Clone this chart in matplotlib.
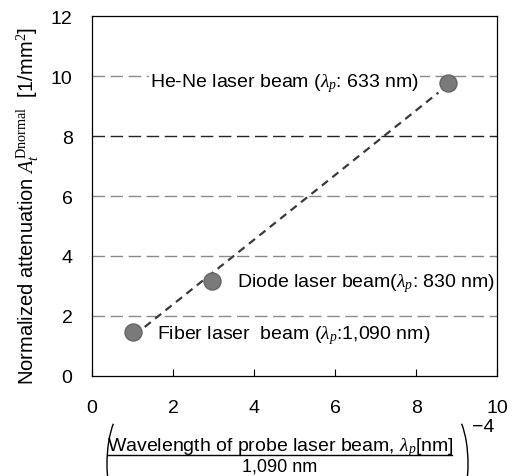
import matplotlib.pyplot as plt
from matplotlib.patches import Arc
from matplotlib.lines import Line2D

plt.rcParams['font.family'] = 'Liberation Sans'
plt.rcParams['mathtext.fontset'] = 'custom'
plt.rcParams['mathtext.rm'] = 'Liberation Serif'
plt.rcParams['mathtext.it'] = 'Liberation Serif:italic'
plt.rcParams['mathtext.sf'] = 'Liberation Sans'

# (lambda_p / 1090 nm)^-4 and normalized attenuation for the three lasers
ratio = [1.0, 2.97, 8.79]
atten = [1.47, 3.17, 9.77]
fit_x = [1.3, 8.55]
fit_y = [1.63, 9.45]
names = [r'Fiber laser  beam ($\lambda_p$:1,090 nm)',
         r'Diode laser beam($\lambda_p$: 830 nm)',
         r'He-Ne laser beam ($\lambda_p$: 633 nm)']
grid_levels = [2, 4, 6, 8, 10]
xticks = [0, 2, 4, 6, 8, 10]
yticks = [0, 2, 4, 6, 8, 10, 12]

W, H = 520, 477
fig = plt.figure(figsize=(W / 100, H / 100), dpi=100)
ax = fig.add_axes([0.177, 0.21, 0.779, 0.754])

for g in grid_levels:
    c = '#222222' if g == 8 else '#8a8a8a'
    ax.axhline(g, color=c, lw=1.0, dashes=(9, 4), zorder=1)

ax.plot(fit_x, fit_y, color='#3a3a3a', lw=1.6, dashes=(3.5, 2.5), zorder=2)
ax.scatter(ratio, atten, s=150, color='#7a7a7a', edgecolors='#666666', zorder=3)

offsets = [(0.6, -0.1), (0.6, -0.07), (-7.36, 0.0)]
for x, y, t, (dx, dy) in zip(ratio, atten, names, offsets):
    ax.text(x + dx, y + dy, t, fontsize=14, va='center', ha='left',
            bbox=dict(facecolor='white', edgecolor='none', pad=1), zorder=4)

ax.set_xlim(0, 10)
ax.set_ylim(0, 12)
ax.set_xticks(xticks)
ax.set_yticks(yticks)
ax.tick_params(axis='x', direction='in', length=5, width=0.8, pad=17, labelsize=14)
ax.tick_params(axis='y', length=0, pad=14, labelsize=14)
for s in ax.spines.values():
    s.set_linewidth(0.9)

ax.set_ylabel(r'Normalized attenuation $A_t^{\mathrm{Dnormal}}$  [1/mm$^2$]', fontsize=14.5)
ax.yaxis.set_label_coords(-0.125, 0.475)

# x label: ( numerator / 1,090 nm )^-4 drawn from pieces, in pixel units
def fy(py):
    return (H - py) / H

fig.text(280 / W, fy(451), r'Wavelength of probe laser beam, $\lambda_p$[nm]',
         fontsize=14, ha='center', va='baseline')
fig.add_artist(Line2D([108 / W, 452 / W], [fy(456), fy(456)],
                      transform=fig.transFigure, color='black', lw=1.0))
fig.text(280 / W, fy(476), '1,090 nm', fontsize=13, ha='center', va='bottom')
px = fig.dpi_scale_trans
cy = (H - 465) / 100
fig.add_artist(Arc((1.27, cy), 0.4, 1.1, theta1=108.7, theta2=251.3,
                   transform=px, color='black', lw=1.0))
fig.add_artist(Arc((4.48, cy), 0.4, 1.1, theta1=-71.3, theta2=71.3,
                   transform=px, color='black', lw=1.0))
fig.text(472 / W, fy(428), '\u22124', fontsize=14, ha='left', va='center')

fig.savefig('out.png', dpi=100)
